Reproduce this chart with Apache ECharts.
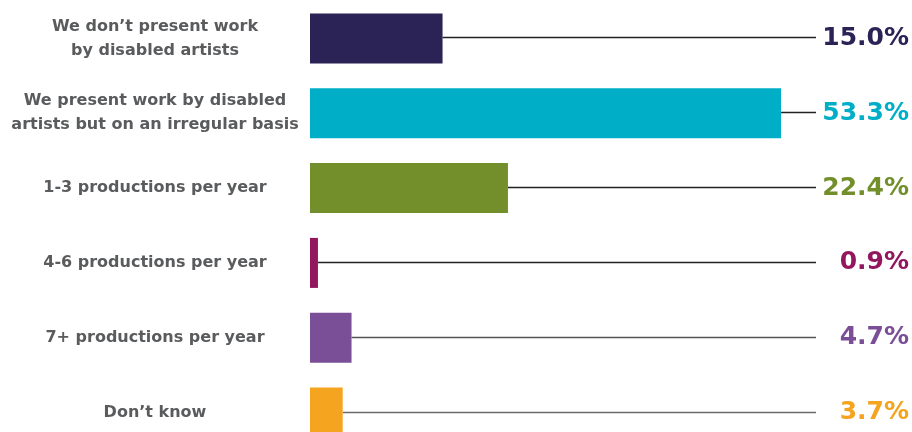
<!DOCTYPE html>
<html>
<head>
<meta charset="utf-8">
<script src="https://cdn.jsdelivr.net/npm/echarts@6/dist/echarts.min.js"></script>
<style>
html,body{margin:0;padding:0;background:#fff;}
#chart{width:912px;height:432px;}
</style>
</head>
<body>
<div id="chart"></div>
<script>
const categories = [
  "We don\u2019t present work\nby disabled artists",
  "We present work by disabled\nartists but on an irregular basis",
  "1-3 productions per year",
  "4-6 productions per year",
  "7+ productions per year",
  "Don\u2019t know"
];
const values = [15.0, 53.3, 22.4, 0.9, 4.7, 3.7];
const valueLabels = ["15.0%", "53.3%", "22.4%", "0.9%", "4.7%", "3.7%"];
const barColors = ["#2b2355", "#00aec7", "#738f2c", "#92175f", "#7a4f98", "#f5a41f"];
const lineColors = ["#222222", "#222222", "#222222", "#222222", "#555555", "#6a6a6a"];
const axisMax = 57.26;

const chart = echarts.init(document.getElementById('chart'), null, {renderer: 'canvas'});
chart.setOption({
  animation: false,
  backgroundColor: '#ffffff',
  grid: {left: 310, right: 96, top: 1, height: 449, containLabel: false, outerBoundsMode: 'none'},
  xAxis: {type: 'value', min: 0, max: axisMax, show: false},
  yAxis: [
    {
      type: 'category', data: categories, inverse: true,
      axisLine: {show: false}, axisTick: {show: false}, splitLine: {show: false},
      axisLabel: {
        interval: 0, margin: 155, align: 'center',
        fontFamily: 'DejaVu Sans', fontSize: 16, fontWeight: 'bold', lineHeight: 24,
        color: '#5a5b5d'
      }
    },
    {
      type: 'category', data: valueLabels, inverse: true, position: 'right',
      axisLine: {show: false}, axisTick: {show: false}, splitLine: {show: false},
      axisLabel: {
        interval: 0, margin: 93, align: 'right',
        fontFamily: 'DejaVu Sans', fontSize: 25, fontWeight: 'bold',
        color: function (v, i) { return barColors[i]; }
      }
    }
  ],
  series: [
    {
      type: 'custom',
      yAxisIndex: 0,
      data: values.map((v, i) => [v, i]),
      renderItem: function (params, api) {
        const i = api.value(1);
        const s = api.coord([api.value(0), i]);
        const e = api.coord([axisMax, i]);
        return {
          type: 'line',
          shape: {x1: s[0], y1: Math.round(s[1]) - 0.5, x2: e[0], y2: Math.round(s[1]) - 0.5},
          style: {stroke: lineColors[params.dataIndex], lineWidth: 1.5}
        };
      },
      z: 1
    },
    {
      type: 'bar',
      yAxisIndex: 0,
      barWidth: 50,
      data: values.map((v, i) => ({value: v, itemStyle: {color: barColors[i]}})),
      z: 2
    }
  ]
});
</script>
</body>
</html>
